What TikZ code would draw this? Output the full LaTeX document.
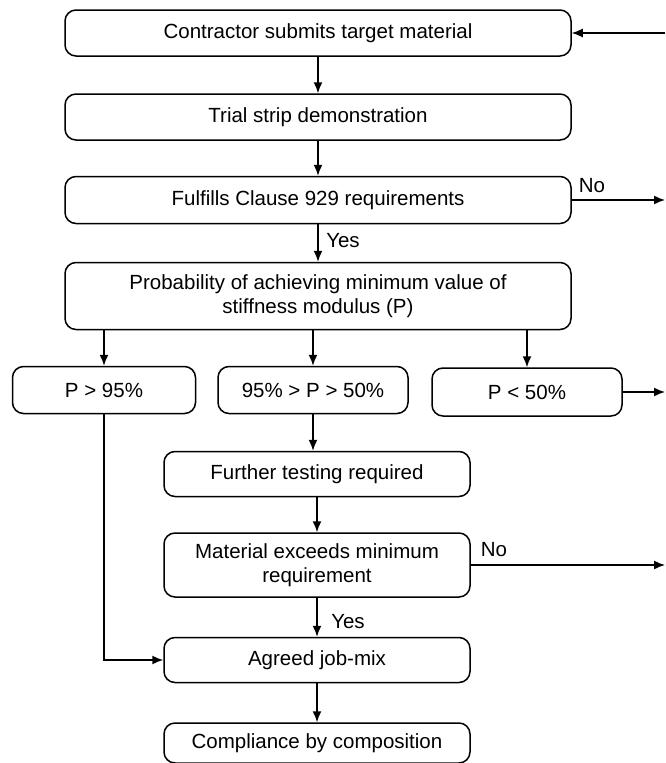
\documentclass[tikz,border=0pt]{standalone}
\usepackage{fontspec}
\setmainfont{Liberation Sans}
\usetikzlibrary{arrows.meta,positioning}

\begin{document}
\begin{tikzpicture}[x=1pt,y=-1pt,
  every node/.style={font=\fontsize{20.5}{24}\selectfont},
  box/.style={draw, rounded corners=11pt, line width=1.5pt, align=center, inner sep=2pt},
  wide/.style={box, minimum width=506pt},
  narrow/.style={box, minimum width=306pt},
  flow/.style={-{Latex[length=11pt,width=9pt]}, line width=1.5pt}]

  \useasboundingbox (0,0) rectangle (665,763);

  % main column
  \node (submit) at (318,33)  [wide, minimum height=46pt] {Contractor submits target material};
  \node (trial)  at (318,117) [wide, minimum height=46pt] {Trial strip demonstration};
  \node (clause) at (318,200) [wide, minimum height=47pt] {Fulfills Clause 929 requirements};
  \node (prob)   at (318,296) [wide, minimum height=67pt] {Probability of achieving minimum value of \\ stiffness modulus (P)};

  % three outcomes
  \node (high) at (104,390) [box, minimum width=183pt, minimum height=47pt] {P > 95\%};
  \node (mid)  at (313,390) [box, minimum width=190pt, minimum height=47pt] {95\% > P > 50\%};
  \node (low)  at (527,392) [box, minimum width=190pt, minimum height=48pt] {P < 50\%};

  \node (test)   at (317,474) [narrow, minimum height=45pt] {Further testing required};
  \node (exceed) at (317,565) [narrow, minimum height=64pt] {Material exceeds minimum \\ requirement};
  \node (agreed) at (317,660) [narrow, minimum height=45pt] {Agreed job-mix};
  \node (comp)   at (317,743) [narrow, minimum height=40pt] {Compliance by composition};

  \draw [flow] (submit) -- (trial);
  \draw [flow] (trial) -- (clause);
  \draw [flow] (clause) -- (prob);
  \draw [flow] (prob.south -| high.north) -- (high);
  \draw [flow] (prob.south -| mid.north) -- (mid);
  \draw [flow] (prob.south -| low.north) -- (low);
  \draw [flow] (mid.south) -- (mid.south |- test.north);
  \draw [flow] (test) -- (exceed);
  \draw [flow] (exceed) -- (agreed);
  \draw [flow] (agreed) -- (comp);
  \draw [flow] (high.south) |- (agreed.west);

  %%% loops back out to the right edge
  \coordinate (back)    at (665,33);
  \coordinate (noclause) at (665,200);
  \coordinate (nolow)   at (665,392);
  \coordinate (noexceed) at (665,565);
  \draw [flow] (back) -- (submit.east);
  \draw [flow] (clause.east) -- (noclause);
  \draw [flow] (low.east) -- (nolow);
  \draw [flow] (exceed.east) -- (noexceed);

  \node (no1)  at (592,186) {No};
  \node (yes1) at (343,241) {Yes};
  \node (no2)  at (494,550) {No};
  \node (yes2) at (348,622) {Yes};

\end{tikzpicture}
\end{document}
